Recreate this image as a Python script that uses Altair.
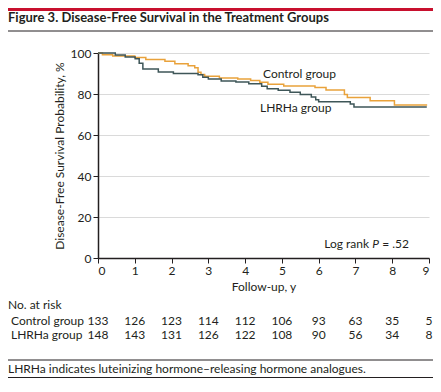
import altair as alt
import pandas as pd

FONT = "Lato"
TXT = "#231f20"

# Kaplan-Meier step points (years, survival %)
ctrl_t = [0, 0.12, 0.4, 1.0, 1.3, 1.82, 2.09, 2.45, 2.63, 2.72, 2.8, 2.9, 3.3, 3.8, 4.15, 4.4, 4.62, 5.05, 5.9, 6.2, 6.7, 6.78, 7.4, 8.06, 8.95]
ctrl_s = [100, 99.2, 98.5, 97.8, 96.8, 96.0, 94.8, 93.8, 92.8, 90.6, 89.5, 88.6, 87.8, 87.3, 86.6, 85.7, 84.8, 83.9, 83.2, 82.0, 79.8, 78.3, 76.7, 74.6, 74.6]
lhrha_t = [0, 0.47, 0.74, 1.01, 1.12, 1.22, 1.64, 2.05, 2.72, 2.85, 3.0, 3.35, 3.75, 4.1, 4.45, 4.6, 4.9, 5.22, 5.5, 5.8, 5.92, 6.0, 6.86, 6.96, 8.94]
lhrha_s = [100, 99.0, 98.0, 97.2, 95.0, 92.2, 90.7, 90.0, 89.4, 88.2, 87.3, 86.4, 85.8, 85.0, 83.8, 82.6, 81.8, 80.8, 79.8, 78.5, 77.2, 76.2, 75.1, 73.6, 73.6]

groups = ["Control group", "LHRHa group"]
colors = ["#E9A23B", "#3E5658"]

risk_times = list(range(10))
risk_control = [133, 126, 123, 114, 112, 106, 93, 63, 35, 5]
risk_lhrha = [148, 143, 131, 126, 122, 108, 90, 56, 34, 8]

x_ticks = list(range(10))
y_ticks = [0, 20, 40, 60, 80, 100]

curves = pd.concat([
    pd.DataFrame({"t": ctrl_t, "s": ctrl_s, "g": groups[0]}),
    pd.DataFrame({"t": lhrha_t, "s": lhrha_s, "g": groups[1]}),
])
risk = pd.concat([
    pd.DataFrame({"t": risk_times, "n": risk_control, "row": groups[0]}),
    pd.DataFrame({"t": risk_times, "n": risk_lhrha, "row": groups[1]}),
])

x_enc = alt.X(
    "t:Q",
    scale=alt.Scale(domain=[0, 9], nice=False, zero=False),
    axis=alt.Axis(
        values=x_ticks, grid=False, title="Follow-up, y", format="d",
        domainColor=TXT, domainWidth=1.5, tickColor=TXT, tickSize=5, tickWidth=1,
        labelFont=FONT, labelFontSize=12, labelColor=TXT, labelPadding=2,
        titleFont=FONT, titleFontSize=12, titleFontWeight="normal", titleColor=TXT,
        titlePadding=5,
    ),
)

lines = alt.Chart(curves).mark_line(interpolate="step-after", strokeWidth=1.5).encode(
    x=x_enc,
    y=alt.Y(
        "s:Q",
        scale=alt.Scale(domain=[0, 100], nice=False),
        axis=alt.Axis(
            values=y_ticks, grid=True, gridColor="#dadada", gridWidth=1,
            title="Disease-Free Survival Probability, %",
            domainColor=TXT, domainWidth=1.5, tickColor=TXT, tickSize=5, tickWidth=1,
            labelFont=FONT, labelFontSize=12, labelColor=TXT, labelPadding=2,
            titleFont=FONT, titleFontSize=12, titleFontWeight="normal", titleColor=TXT,
            titlePadding=4,
        ),
    ),
    color=alt.Color("g:N", scale=alt.Scale(domain=groups, range=colors), legend=None),
    detail="g:N",
)

risk_row_y = {groups[0]: 272, groups[1]: 286}
risk_layers = []
for grp in groups:
    risk_layers.append(
        alt.Chart(risk[risk["row"] == grp]).mark_text(
            font=FONT, fontSize=12, color=TXT, align="center", baseline="alphabetic"
        ).encode(x=x_enc, y=alt.value(risk_row_y[grp]), text="n:Q")
    )


def txt(text, x, y, size=12, weight="normal", style="normal", color=TXT, align="left"):
    return alt.Chart(pd.DataFrame({"l": [text]})).mark_text(
        font=FONT, fontSize=size, fontWeight=weight, fontStyle=style, color=color,
        align=align, baseline="alphabetic"
    ).encode(x=alt.value(x), y=alt.value(y), text="l:N")


def rule(x1, x2, y, color, width):
    return alt.Chart(pd.DataFrame({"a": [0]})).mark_rule(color=color, strokeWidth=width).encode(
        x=alt.value(x1), x2=alt.value(x2), y=alt.value(y)
    )


annotations = [
    rule(-90, 335, -43.5, "#C8102E", 3),
    txt("Figure 3. Disease-Free Survival in the Treatment Groups", -90, -31, size=13, weight="bold"),
    rule(-90, 335, -22, TXT, 1),
    txt("Control group", 165, 25),
    txt("LHRHa group", 162, 59),
    txt("Log rank", 271, 195, align="right"),
    txt("P", 281, 195, style="italic", align="right"),
    txt("= .52", 311, 195, align="right"),
    txt("No. at risk", -90, 256),
    txt("Control group", -87, 272),
    txt("LHRHa group", -87, 286),
    rule(-90, 335, 307, TXT, 1),
    txt("LHRHa indicates luteinizing hormone\u2013releasing hormone analogues.", -90, 320),
    rule(-90, 335, 324.5, TXT, 1),
]

chart = alt.layer(lines, *risk_layers, *annotations).properties(
    width=331, height=205,
    padding={"left": 90, "top": 45, "right": 4, "bottom": 120},
    autosize=alt.AutoSizeParams(type="none"),
).configure_view(stroke=None)

chart.save("out.html", embed_options={"renderer": "svg", "actions": False})
